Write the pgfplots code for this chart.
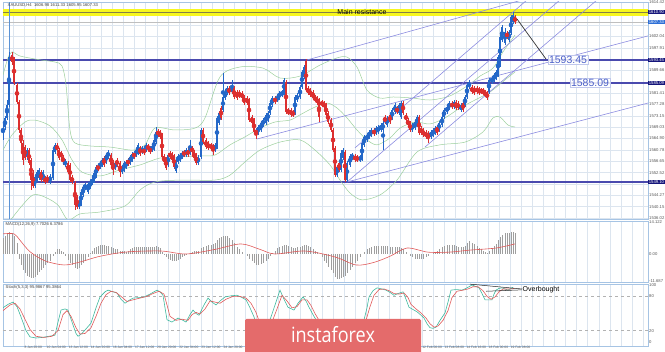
\documentclass[border=0pt]{standalone}
\usepackage{pgfplots}
\pgfplotsset{compat=1.18}
\usepackage{pgfplotstable}
\usepackage{fontspec}
\setmainfont{Liberation Sans}
\newfontfamily\logofont{Open Sans}

\definecolor{upc}{HTML}{2468C8}
\definecolor{dnc}{HTML}{DC2F2F}
\definecolor{lvl}{HTML}{4A4AAE}
\definecolor{chan}{HTML}{8C8CE0}
\definecolor{bb}{HTML}{9CCF9C}
\definecolor{gridc}{HTML}{DCE5EF}
\definecolor{frame}{HTML}{A6C4E4}
\definecolor{ybar}{HTML}{F7F71E}
\definecolor{navy}{HTML}{14147A}
\definecolor{curblue}{HTML}{2E6FD6}
\definecolor{logored}{HTML}{E46B6B}
\definecolor{stk}{HTML}{3DB89E}
\definecolor{std}{HTML}{E05A5A}
\definecolor{lbl}{HTML}{4A5FC8}
\definecolor{vline}{HTML}{5B93D6}

% rising candles (x open high low close)
\pgfplotstableread{
x o h l c
3 1566.2 1570.9 1564.4 1569.8
5 1569.1 1573.1 1568.0 1572.4
7 1572.4 1578.9 1571.6 1577.1
9 1577.1 1596.4 1576.4 1594.5
27 1558.2 1561.5 1557.1 1560.7
35 1547.6 1551.6 1546.9 1550.9
37 1549.8 1553.5 1549.1 1552.7
39 1550.6 1554.2 1549.8 1553.5
43 1549.8 1553.5 1548.7 1552.7
50 1549.1 1552.0 1548.4 1551.3
53 1550.6 1561.5 1549.8 1560.7
55 1560.0 1563.3 1559.3 1562.6
65 1555.3 1557.5 1554.6 1556.7
79 1540.0 1542.6 1539.3 1541.8
81 1541.1 1546.2 1540.4 1545.5
83 1544.4 1548.0 1543.7 1547.3
85 1546.9 1548.7 1546.2 1548.0
88 1545.5 1549.1 1544.7 1548.4
90 1547.3 1549.8 1546.6 1549.1
92 1548.7 1550.9 1548.0 1550.2
94 1549.5 1553.1 1548.7 1552.4
96 1551.3 1555.3 1550.6 1554.6
100 1554.6 1556.7 1553.8 1556.0
102 1555.3 1557.8 1554.6 1557.1
106 1556.4 1559.6 1555.6 1558.9
108 1558.2 1560.7 1557.5 1560.0
115 1554.2 1556.7 1553.5 1556.0
122 1552.7 1555.3 1552.0 1554.6
124 1553.5 1556.7 1552.7 1556.0
126 1554.6 1557.1 1553.8 1556.4
130 1556.0 1558.9 1555.3 1558.2
132 1557.1 1560.0 1556.4 1559.3
136 1558.9 1561.5 1558.2 1560.7
138 1559.6 1563.3 1558.9 1562.6
142 1560.0 1562.2 1559.3 1561.5
146 1560.7 1563.3 1560.0 1562.6
152 1560.7 1562.9 1560.0 1562.2
154 1561.1 1565.1 1560.4 1564.4
156 1563.6 1569.1 1562.9 1567.3
168 1555.3 1559.6 1554.6 1558.9
176 1553.1 1557.1 1552.4 1556.4
178 1556.4 1559.3 1555.6 1558.6
180 1557.1 1559.6 1556.4 1558.9
182 1558.2 1560.4 1557.5 1559.6
186 1558.9 1561.5 1558.2 1560.7
190 1559.6 1564.4 1558.9 1561.8
198 1556.0 1558.9 1555.3 1558.2
201 1558.2 1568.7 1557.5 1568.0
215 1560.7 1563.3 1560.0 1562.6
217 1561.8 1573.1 1561.1 1572.4
219 1570.6 1574.9 1569.8 1574.2
223 1575.3 1588.7 1574.6 1580.0
225 1579.6 1582.6 1578.9 1581.8
227 1581.5 1584.0 1580.7 1583.3
232 1581.8 1586.2 1581.1 1583.6
258 1566.9 1569.8 1566.2 1569.1
261 1568.0 1571.3 1567.3 1570.6
263 1569.8 1572.4 1569.1 1571.6
266 1570.6 1574.2 1569.8 1573.5
268 1571.6 1574.9 1570.9 1574.2
270 1574.2 1578.5 1573.5 1577.8
272 1577.1 1580.4 1576.4 1579.6
277 1578.9 1580.7 1578.2 1580.0
279 1579.6 1582.2 1578.9 1581.5
282 1580.7 1582.6 1580.0 1581.8
284 1581.5 1586.9 1580.7 1586.2
295 1574.2 1580.7 1573.5 1580.0
297 1578.9 1581.5 1578.2 1580.7
300 1580.0 1584.4 1579.3 1583.6
302 1583.6 1589.8 1582.9 1589.1
304 1587.3 1591.6 1586.5 1590.9
337 1551.6 1555.3 1550.9 1554.6
341 1553.5 1560.7 1552.7 1559.6
343 1557.8 1561.5 1557.1 1560.7
347 1549.8 1556.7 1549.1 1556.0
350 1555.3 1559.3 1554.6 1558.6
352 1557.8 1559.6 1557.1 1558.9
360 1557.1 1558.9 1556.4 1558.2
362 1557.5 1564.0 1556.7 1563.3
364 1562.6 1566.2 1561.8 1565.5
367 1564.4 1566.9 1563.6 1566.2
369 1565.5 1568.0 1564.7 1567.3
371 1566.2 1568.7 1565.5 1568.0
376 1566.9 1569.5 1566.2 1568.7
378 1567.3 1569.8 1566.6 1569.1
381 1568.0 1570.6 1567.3 1569.8
383 1568.0 1571.3 1560.7 1570.6
387 1569.8 1573.1 1569.1 1572.4
392 1572.4 1576.0 1571.6 1575.3
395 1574.6 1577.8 1573.8 1577.1
399 1574.2 1577.8 1573.5 1577.1
401 1572.7 1578.5 1572.0 1577.8
412 1568.0 1570.6 1567.3 1569.8
415 1568.7 1571.6 1568.0 1570.9
417 1569.8 1573.5 1569.1 1572.7
431 1565.5 1568.0 1564.7 1567.3
433 1566.2 1568.7 1565.5 1568.0
435 1566.9 1569.5 1566.2 1568.7
439 1568.0 1571.3 1567.3 1570.6
442 1569.8 1573.5 1569.1 1572.7
444 1572.7 1576.0 1572.0 1575.3
447 1574.6 1577.1 1573.8 1576.4
449 1576.0 1578.5 1575.3 1577.8
454 1576.4 1578.9 1575.6 1578.2
461 1575.3 1577.8 1574.6 1577.1
465 1577.1 1580.7 1576.4 1580.0
467 1580.0 1585.1 1579.3 1584.4
469 1583.6 1586.2 1582.9 1585.1
489 1581.8 1586.9 1581.1 1586.2
492 1585.5 1587.6 1584.7 1586.9
494 1586.2 1588.7 1585.5 1588.0
496 1586.9 1589.8 1586.2 1589.1
498 1588.0 1595.3 1587.3 1594.5
500 1591.6 1602.5 1590.9 1601.8
502 1600.7 1606.2 1600.0 1605.4
505 1599.6 1605.1 1598.9 1603.6
509 1600.7 1604.4 1600.0 1603.6
511 1603.3 1609.8 1602.5 1609.1
513 1607.3 1610.9 1606.5 1609.8
}\up

% falling candles (x open high low close)
\pgfplotstableread{
x o h l c
12 1595.3 1596.4 1591.6 1592.7
14 1593.5 1594.5 1584.4 1585.1
17 1584.4 1585.1 1577.5 1578.2
19 1578.2 1578.9 1566.9 1568.0
21 1568.0 1568.7 1560.7 1563.3
23 1563.3 1564.4 1555.3 1557.1
25 1561.8 1562.6 1557.1 1557.8
29 1560.7 1561.5 1555.3 1556.0
31 1557.1 1557.8 1546.2 1549.8
33 1552.4 1553.5 1546.9 1547.6
41 1552.7 1553.5 1549.1 1549.8
45 1550.6 1551.3 1548.4 1549.1
47 1550.9 1551.6 1548.7 1549.5
57 1562.6 1563.3 1560.0 1560.7
59 1560.7 1561.5 1557.1 1557.8
61 1559.6 1560.4 1557.5 1558.2
63 1558.2 1558.9 1555.3 1556.4
68 1556.0 1556.7 1552.0 1552.7
70 1555.3 1556.0 1549.1 1549.8
72 1550.9 1551.6 1548.4 1549.1
75 1548.7 1549.5 1538.9 1540.7
77 1543.7 1544.4 1539.3 1540.0
98 1554.9 1555.6 1553.1 1553.8
104 1557.8 1558.6 1554.6 1555.3
111 1558.9 1559.6 1554.6 1555.3
113 1556.4 1557.1 1551.6 1553.5
117 1557.1 1557.8 1554.6 1555.3
120 1556.0 1556.7 1550.9 1552.7
128 1557.1 1557.8 1554.9 1555.6
134 1559.6 1560.4 1557.5 1558.2
140 1561.5 1562.2 1558.6 1559.3
144 1561.1 1561.8 1558.9 1559.6
148 1562.2 1562.9 1560.4 1561.1
150 1561.5 1562.2 1559.3 1560.0
158 1567.6 1568.4 1565.5 1566.2
160 1567.3 1568.0 1564.7 1565.5
162 1566.2 1566.9 1557.5 1558.2
164 1558.6 1559.3 1555.6 1556.4
166 1557.5 1558.2 1553.5 1554.2
170 1559.6 1560.4 1557.5 1558.2
172 1559.3 1560.0 1556.4 1557.1
174 1558.6 1559.3 1553.8 1554.6
184 1560.0 1560.7 1558.2 1558.9
188 1560.7 1561.5 1558.2 1558.9
192 1561.5 1562.2 1559.3 1560.0
194 1560.0 1560.7 1557.1 1557.8
196 1558.9 1559.6 1555.3 1556.0
203 1568.0 1568.7 1562.9 1563.6
206 1564.4 1565.1 1561.1 1561.8
208 1563.3 1564.0 1560.7 1561.5
211 1562.6 1563.3 1560.7 1561.5
213 1562.2 1562.9 1558.9 1560.7
221 1576.0 1576.7 1571.6 1572.4
229 1583.3 1584.0 1580.7 1581.5
234 1583.3 1584.0 1579.3 1580.0
237 1581.8 1582.6 1578.9 1579.6
239 1581.8 1582.6 1579.6 1580.4
242 1581.5 1582.2 1578.9 1579.6
244 1580.0 1580.7 1577.1 1577.8
247 1579.6 1580.4 1577.1 1577.8
249 1578.9 1579.6 1570.9 1571.6
252 1572.7 1573.5 1569.8 1570.6
254 1571.6 1572.4 1566.6 1567.3
256 1568.0 1568.7 1564.7 1566.6
275 1579.6 1580.4 1577.5 1578.2
286 1585.5 1586.2 1573.8 1574.6
288 1575.3 1576.0 1573.5 1574.2
291 1575.3 1576.0 1572.7 1573.5
293 1574.6 1575.3 1572.7 1573.5
306 1593.1 1593.8 1581.8 1582.5
308 1583.3 1584.0 1580.7 1581.5
310 1582.5 1583.3 1580.0 1580.7
313 1581.8 1582.5 1578.9 1579.6
315 1580.0 1580.7 1578.2 1578.9
317 1579.6 1580.4 1577.1 1577.8
319 1578.9 1579.6 1570.9 1572.7
322 1578.2 1578.9 1576.4 1577.1
324 1577.8 1578.5 1575.6 1576.4
326 1577.1 1577.8 1572.7 1573.5
328 1574.2 1574.9 1570.2 1570.9
331 1571.6 1572.4 1567.3 1568.0
333 1568.0 1568.7 1560.0 1560.7
335 1561.5 1562.2 1550.9 1551.6
339 1556.0 1556.7 1552.7 1553.5
345 1560.0 1560.7 1549.1 1549.8
355 1558.6 1559.3 1556.4 1557.1
357 1558.2 1558.9 1556.4 1557.1
374 1568.0 1568.7 1565.8 1566.6
385 1572.7 1573.5 1570.2 1570.9
390 1573.5 1574.2 1570.2 1570.9
397 1576.0 1576.7 1573.8 1574.6
403 1577.8 1578.5 1573.5 1574.2
406 1573.5 1574.2 1570.9 1571.6
408 1571.6 1572.4 1569.1 1569.8
410 1570.6 1571.3 1567.3 1568.0
419 1572.7 1573.5 1566.2 1566.9
421 1568.7 1569.5 1566.2 1566.9
423 1568.0 1568.7 1565.5 1566.2
426 1567.3 1568.0 1564.7 1565.5
428 1566.9 1567.6 1563.3 1565.1
437 1569.1 1569.8 1566.2 1566.9
452 1577.8 1578.5 1575.6 1576.4
456 1578.2 1578.9 1575.3 1576.0
458 1577.8 1578.5 1575.3 1576.0
463 1577.8 1578.5 1574.6 1575.3
472 1583.6 1584.4 1581.1 1581.8
474 1583.3 1584.0 1580.7 1581.5
477 1583.3 1584.0 1581.1 1581.8
479 1582.9 1583.6 1580.7 1581.5
481 1582.5 1583.3 1581.1 1581.8
483 1582.5 1583.3 1580.7 1581.5
485 1581.8 1582.5 1580.0 1580.7
487 1581.5 1582.2 1578.9 1579.6
507 1603.3 1604.0 1601.1 1601.8
515 1609.1 1609.8 1606.5 1607.3
}\dn

% MACD histogram
\pgfplotstableread{
x m
3 7
5 8
7 9
9 9.5
12 9
14 8
17 5
19 -2
21 -5
23 -7
25 -8.5
27 -9.5
29 -10
31 -10.5
33 -10.5
35 -10
37 -9
39 -8
41 -7
43 -6
45 -5
47 -4
50 -3
53 -1
55 1
57 2
59 2
61 1.5
63 1
65 -1
68 -2.5
70 -4
72 -5
75 -6
77 -6.5
79 -6
81 -5
83 -4
85 -3
88 -1.5
90 0.5
92 1.5
94 2.5
96 3
98 3.5
100 4
102 4
104 4
106 3.5
108 3.5
111 3
113 2.5
115 2
117 2
120 1.5
122 1.5
124 1.5
126 1
128 1.5
130 2
132 2.5
134 3
136 3
138 3
140 3
142 3
144 3
146 3
148 3
150 3
152 3
154 3
156 3.5
158 3
160 2.5
162 1
164 -0.5
166 -1.5
168 -2
170 -2.5
172 -3
174 -3
176 -3
178 -2.5
180 -2
182 -1.5
184 -1
186 -0.5
188 0
190 0.5
192 1
194 1.5
196 1.5
198 1.5
201 2.5
203 3
206 3.5
208 4
211 4
213 4.5
215 5
217 6
219 7
221 7.5
223 8
225 8
227 8
229 7
232 6
234 5
237 3
239 2
242 1
244 0
247 -1
249 -2
252 -3
254 -4
256 -5
258 -5
261 -4.5
263 -4
266 -3
268 -2
270 -1
272 0.5
275 1.5
277 2.5
279 3
282 3.5
284 4
286 4
288 3.5
291 3
293 2.5
295 2.5
297 3
300 3
302 3.5
304 4
306 4
308 3.5
310 3
313 2
315 1.5
317 1
319 0
322 -1.5
324 -3
326 -4
328 -5.5
331 -7
333 -8.5
335 -10
337 -11
339 -11
341 -10.5
343 -10
345 -9.5
347 -8.5
350 -7
352 -5.5
355 -4
357 -3
360 -1.5
362 0
364 1
367 2
369 2.5
371 3
374 3.5
376 3.5
378 3.5
381 3.5
383 3.5
385 3.5
387 3.5
390 3
392 3
395 3
397 3
399 3
401 2.5
403 2
406 1
408 0
410 -1
412 -1.5
415 -2
417 -2
419 -2
421 -2
423 -2
426 -1.5
428 -1
431 0
433 0.5
435 1
437 1.5
439 2
442 3
444 3.5
447 4
449 4
452 4
454 4
456 3.5
458 3
461 3
463 3
465 3.5
467 5
469 5.5
472 5
474 4.5
477 3.5
479 2.5
481 2
483 1.5
485 1
487 0.5
489 1.5
492 2.5
494 3.5
496 4.5
498 6
500 7.5
502 8.5
505 9
507 9
509 9
511 9.5
513 9.5
515 9
}\macd

\pgfplotsset{
  panel/.style={
    scale only axis, width=645pt, xmin=3, xmax=648,
    axis line style={draw=frame, line width=0.9pt},
    tick style={draw=none},
    xtick={2,24.1,...,645}, minor xtick={13.05,35.15,...,648},
    xmajorgrids=true, xminorgrids=true,
    major grid style={draw=gridc, line width=0.4pt},
    minor grid style={draw=gridc, line width=0.4pt},
    yticklabel pos=right,
    yticklabel style={font=\fontsize{4.2}{5}\selectfont, text=black!65, anchor=west, inner sep=0.5pt, xshift=0.5pt},
    /pgf/number format/assume math mode=true,
    clip mode=individual,
  },
  nox/.style={xticklabel={\empty}, xticklabel style={text opacity=0, opacity=0}},
  wick/.style={only marks, mark=none, forget plot, color=#1, error bars/.cd, y dir=both, y explicit, error mark=none, error bar style={line width=0.45pt, solid}},
  body/.style={only marks, mark=none, forget plot, color=#1, error bars/.cd, y dir=both, y explicit, error mark=none, error bar style={line width=1.4pt, solid, line cap=butt}},
}
\tikzset{
  hilab/.style={font=\fontsize{4.2}{5}\selectfont, text=white, fill=#1, anchor=west, inner sep=0.7pt, minimum width=14pt},
  tinylab/.style={font=\fontsize{4.2}{5}\selectfont, text=black!75, inner sep=0.5pt},
}

\begin{document}
\begin{tikzpicture}
\path[use as bounding box] (0,0) rectangle (665pt,352pt);

% ---------------- main price panel
\begin{axis}[panel, nox, at={(3pt,133pt)}, anchor=south west, height=217pt,
  ymin=1535.65, ymax=1614.53, ymajorgrids=true,
  ytick={1536.02,1540.15,1544.27,1548.40,1552.52,1556.65,1560.78,1564.90,1569.03,1573.15,1577.28,1581.41,1585.53,1589.66,1593.78,1597.91,1602.04,1606.16,1610.29,1614.42},
  yticklabels={1536.02,1540.15,1544.27,,1552.52,1556.65,1560.78,1564.90,1569.03,1573.15,1577.28,1581.41,,1589.66,,1597.91,1602.04,,,1614.42}]
\addplot[draw=none, fill=ybar, forget plot] coordinates {(3,1609.6) (648,1609.6) (648,1612.0) (3,1612.0)} -- cycle;
\addplot[color=black!55!yellow, line width=0.6pt] coordinates {(3,1610.9) (648,1610.9)};
\addplot[color=black!25, line width=0.4pt] coordinates {(3,1607.33) (648,1607.33)};
\addplot[lvl, line width=1.1pt] coordinates {(3,1593.45) (648,1593.45)};
\addplot[lvl, line width=1.1pt] coordinates {(3,1585.09) (648,1585.09)};
\addplot[lvl, line width=1.1pt] coordinates {(3,1549.10) (648,1549.10)};
\addplot[vline, line width=0.5pt] coordinates {(9.5,1535.65) (9.5,1614.53)};
% Bollinger bands
\addplot[bb, line width=0.5pt, smooth] coordinates {(3,1588.0) (8,1594.2) (12,1596.4) (20,1594.9) (40,1593.5) (55,1592.7) (62,1591.3) (66,1584.4) (70,1568.0) (75,1563.3) (90,1562.2) (110,1561.8) (133,1560.7) (145,1562.6) (155,1568.7) (175,1568.0) (195,1568.7) (205,1572.4) (220,1587.3) (240,1590.9) (263,1590.5) (280,1586.9) (300,1587.6) (320,1591.6) (337,1594.2) (347,1594.5) (357,1590.9) (367,1582.5) (380,1579.6) (393,1580.0) (413,1579.6) (430,1578.9) (450,1580.4) (470,1584.7) (480,1587.6) (493,1590.5) (503,1596.4) (515,1602.5)};
\addplot[bb, line width=0.5pt, smooth] coordinates {(3,1560.7) (12,1566.2) (25,1570.9) (35,1571.6) (50,1569.5) (62,1564.4) (72,1557.1) (82,1552.7) (100,1551.3) (120,1553.5) (140,1555.3) (160,1557.8) (180,1558.2) (200,1558.6) (215,1558.9) (230,1562.6) (245,1565.5) (260,1568.7) (275,1570.9) (290,1571.6) (300,1573.5) (313,1576.0) (327,1577.8) (337,1576.0) (347,1572.4) (357,1568.0) (367,1564.4) (377,1562.6) (390,1565.1) (400,1568.7) (415,1570.9) (430,1570.2) (445,1572.4) (460,1576.0) (475,1578.9) (490,1581.8) (505,1586.2) (515,1589.1)};
\addplot[bb, line width=0.5pt, smooth] coordinates {(3,1531.7) (20,1539.6) (33,1544.4) (45,1543.6) (58,1540.7) (68,1535.3) (80,1537.5) (100,1538.2) (125,1540.4) (140,1546.2) (155,1549.1) (180,1549.8) (215,1549.8) (230,1551.6) (245,1556.4) (260,1560.7) (280,1563.6) (300,1564.4) (315,1560.7) (330,1555.3) (340,1549.8) (350,1545.1) (362,1542.6) (380,1544.4) (397,1549.8) (417,1560.0) (440,1562.6) (465,1563.6) (483,1567.3) (493,1572.4) (500,1572.7) (508,1569.8) (515,1569.1)};
% channel lines
\addplot[chan, line width=0.6pt] coordinates {(307,1593.45) (560,1619.1)};
\addplot[chan, line width=0.6pt] coordinates {(257,1564.73) (648,1602.2)};
\addplot[chan, line width=0.6pt] coordinates {(347,1549.1) (648,1577.8)};
\addplot[chan, line width=0.6pt] coordinates {(347,1549.1) (560,1615.26)};
\addplot[chan, line width=0.6pt] coordinates {(355,1561.5) (527,1615.26)};
\addplot[chan, line width=0.6pt] coordinates {(425,1561.8) (597,1615.26)};
% candles
\addplot[wick=upc] table[x=x, y expr={(\thisrow{h}+\thisrow{l})/2}, y error expr={(\thisrow{h}-\thisrow{l})/2}] {\up};
\addplot[wick=dnc] table[x=x, y expr={(\thisrow{h}+\thisrow{l})/2}, y error expr={(\thisrow{h}-\thisrow{l})/2}] {\dn};
\addplot[body=upc] table[x=x, y expr={(\thisrow{o}+\thisrow{c})/2}, y error expr={(\thisrow{c}-\thisrow{o})/2}] {\up};
\addplot[body=dnc] table[x=x, y expr={(\thisrow{o}+\thisrow{c})/2}, y error expr={(\thisrow{o}-\thisrow{c})/2}] {\dn};
\addplot[color=black!80, line width=0.7pt] coordinates {(517,1608.35) (546,1593.8)};
\node[font=\fontsize{7}{8}\selectfont, text=black] at (axis cs:362,1610.9) {Main resistance};
\node[font=\fontsize{10.5}{11}\selectfont, text=lbl, fill=white, fill opacity=0.85, text opacity=1, draw=lbl!35, line width=0.4pt, inner sep=0.8pt] at (axis cs:568,1593.45) {1593.45};
\node[font=\fontsize{10.5}{11}\selectfont, text=lbl, fill=white, fill opacity=0.85, text opacity=1, draw=lbl!35, line width=0.4pt, inner sep=0.8pt] at (axis cs:590,1585.09) {1585.09};
\node[tinylab, anchor=north west] at (axis cs:7,1614.3) {XAUUSD,H4\ \ 1606.98 1611.33 1605.95 1607.33};
\node[hilab=navy] at (axis cs:648,1610.9) {1610.90};
\node[hilab=curblue] at (axis cs:648,1607.33) {1607.33};
\node[hilab=navy] at (axis cs:648,1593.45) {1593.45};
\node[hilab=navy] at (axis cs:648,1585.09) {1585.09};
\node[hilab=navy] at (axis cs:648,1549.10) {1549.10};
\end{axis}

% ---------------- MACD panel
\begin{axis}[panel, nox, at={(3pt,70pt)}, anchor=south west, height=61pt,
  ymin=-12.24, ymax=14.42,
  ytick={-11.687,0,14.122}, yticklabels={-11.687,0.00,14.122}]
\addplot[ycomb, color=black!38, line width=0.7pt, mark=none, forget plot] table[x=x, y=m] {\macd};
\addplot[color=std, line width=0.6pt, smooth] coordinates {(3,8.8) (14,8.8) (20,6) (30,1) (45,-3) (64,-4.8) (80,-3.5) (100,-1) (127,0.9) (161,1.3) (186,0) (215,2) (241,4.4) (260,2) (275,0) (305,1.3) (335,-1.3) (356,-4.8) (373,-3.8) (390,-1) (407,2.6) (428,0.8) (449,0.8) (470,1.7) (496,2.6) (515,4.4)};
\node[tinylab, anchor=north west] at (axis cs:5,14.2) {MACD(12,26,9) 7.7026 6.3786};
\end{axis}

% ---------------- Stochastic panel
\begin{axis}[panel, at={(3pt,6pt)}, anchor=south west, height=62pt,
  ymin=-7, ymax=101.75,
  ytick={0,20,80,100}, yticklabels={0,20,80,100},
  xticklabels={7 Jan 2020,8 Jan 20:00,10 Jan 04:00,13 Jan 12:00,14 Jan 20:00,16 Jan 04:00,17 Jan 12:00,20 Jan 20:00,22 Jan 04:00,23 Jan 12:00,24 Jan 20:00,,,,,,,,,12 Feb 00:00,13 Feb 08:00,14 Feb 16:00,18 Feb 00:00,19 Feb 08:00,,,,,,},
  xticklabel style={font=\fontsize{3.3}{4}\selectfont, text=black!65, anchor=north west, inner sep=0.3pt, yshift=0.5pt}]
\addplot[black!30, dashed, line width=0.3pt] coordinates {(3,20) (648,20)};
\addplot[black!30, dashed, line width=0.3pt] coordinates {(3,80) (648,80)};
\addplot[stk, line width=0.6pt] coordinates {(3,60) (8,66) (13,70) (17,62) (21,44) (26,20) (30,9) (36,7) (42,8) (49,10) (55,12) (58,35) (61,56) (65,58) (68,56) (72,35) (76,15) (78,10) (82,15) (85,21) (91,33) (96,60) (100,79) (105,88) (108,91) (113,88) (117,86) (121,75) (125,68) (129,73) (133,77) (140,78) (144,79) (150,84) (157,91) (160,88) (163,82) (165,60) (167,39) (172,35) (178,42) (183,38) (186,35) (190,48) (193,56) (196,50) (199,47) (204,65) (208,77) (212,70) (216,65) (220,72) (225,79) (231,81) (237,82) (242,78) (246,74) (250,60) (254,44) (258,25) (261,9) (265,15) (268,30) (271,44) (276,70) (280,91) (284,75) (288,61) (294,56) (298,68) (303,79) (306,72) (309,61) (313,48) (316,39) (320,25) (330,12) (345,10) (355,15) (360,28) (364,39) (367,60) (369,79) (373,90) (377,95) (382,93) (386,91) (390,87) (394,82) (398,85) (403,88) (406,75) (409,61) (413,57) (417,53) (421,47) (424,42) (427,32) (430,25) (433,24) (436,26) (440,38) (445,51) (448,70) (451,91) (456,92) (462,91) (466,94) (468,96) (472,100) (475,98) (479,95) (482,85) (485,74) (489,74) (492,74) (494,84) (496,91) (499,94) (502,95) (505,93) (508,91) (511,94) (513,96)};
\addplot[std, line width=0.6pt] coordinates {(3,55) (10,65) (15,68) (20,58) (25,40) (30,22) (36,10) (44,8) (52,10) (58,20) (63,48) (67,55) (71,45) (76,25) (80,14) (85,15) (91,25) (96,45) (101,68) (106,83) (111,89) (116,87) (121,80) (127,71) (133,74) (140,77) (147,80) (153,85) (159,89) (164,84) (167,65) (170,45) (176,38) (182,40) (188,38) (192,48) (196,52) (200,49) (205,58) (210,72) (215,70) (220,68) (226,75) (233,80) (240,80) (246,77) (251,68) (256,52) (260,32) (264,18) (268,20) (272,35) (277,58) (282,82) (287,72) (292,60) (297,62) (302,74) (307,74) (311,64) (315,50) (320,35) (330,18) (345,10) (357,13) (362,22) (366,38) (370,62) (374,82) (379,92) (384,93) (389,90) (394,85) (399,84) (404,86) (408,78) (411,66) (416,58) (421,51) (426,42) (430,32) (434,26) (438,28) (443,38) (448,55) (452,78) (457,89) (463,91) (468,93) (473,97) (478,97) (483,90) (487,80) (491,75) (495,79) (499,88) (503,93) (507,93) (511,93) (514,94)};
\addplot[black!85, line width=0.5pt] coordinates {(470,101.5) (522,93)};
\addplot[black!85, line width=0.5pt] coordinates {(486,89) (522,91.5)};
\node[font=\fontsize{7}{8}\selectfont, text=black, anchor=west, inner sep=0.5pt] at (axis cs:522,92) {Overbought};
\node[tinylab, anchor=north west] at (axis cs:5,100.5) {Stoch(5,3,3) 95.9867 95.3864};
\end{axis}

\fill[logored, rounded corners=1.5pt] (245pt,-2pt) rectangle (421pt,33pt);
\node[text=white, font=\logofont\fontsize{21}{22}\selectfont, xscale=0.86, anchor=base, inner sep=0pt] at (333pt,9pt) {instaforex};
\end{tikzpicture}
\end{document}
